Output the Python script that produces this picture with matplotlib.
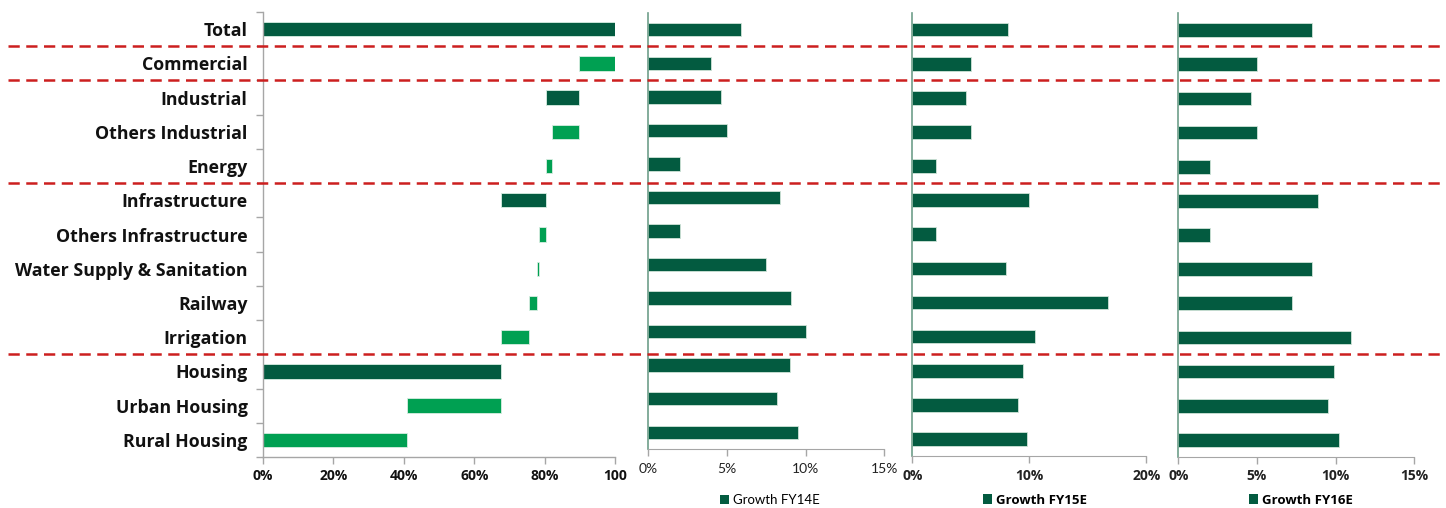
import numpy as np
import matplotlib
matplotlib.use('Agg')
import matplotlib.pyplot as plt
from matplotlib.lines import Line2D
from matplotlib.patches import Patch

plt.rcParams['font.family'] = ['Open Sans', 'DejaVu Sans']

# segments, top to bottom
categories = ['Total', 'Commercial', 'Industrial', 'Others Industrial', 'Energy',
              'Infrastructure', 'Others Infrastructure', 'Water Supply & Sanitation',
              'Railway', 'Irrigation', 'Housing', 'Urban Housing', 'Rural Housing']

# share of total (%) for groups and their sub-segments
group_names = ['Housing', 'Infrastructure', 'Industrial', 'Commercial']
group_share = [67.5, 13.0, 9.2, 10.3]
sub_items = {
    'Housing': [('Rural Housing', 40.9), ('Urban Housing', 26.6)],
    'Infrastructure': [('Irrigation', 8.1), ('Railway', 2.2),
                       ('Water Supply & Sanitation', 0.7), ('Others Infrastructure', 2.0)],
    'Industrial': [('Energy', 1.7), ('Others Industrial', 7.5)],
    'Commercial': [],
}

growth_fy14 = [5.9, 4.0, 4.6, 5.0, 2.0, 8.4, 2.0, 7.5, 9.1, 10.0, 9.0, 8.2, 9.5]
growth_fy15 = [8.2, 5.0, 4.6, 5.0, 2.0, 10.0, 2.0, 8.0, 16.7, 10.5, 9.5, 9.0, 9.8]
growth_fy16 = [8.5, 5.0, 4.6, 5.0, 2.0, 8.9, 2.0, 8.5, 7.2, 11.0, 9.9, 9.5, 10.2]

DARK = '#035B40'
LIGHT = '#00A052'
RED = '#CC1F1F'
GREY = '#A6A6A6'

# waterfall: left edge and width for every row
left = {}
width = {}
is_group = {}
start = 0.0
for g, s in zip(group_names, group_share):
    left[g], width[g], is_group[g] = start, s, True
    pos = start
    for name, v in sub_items[g]:
        left[name], width[name], is_group[name] = pos, v, False
        pos += v
    start += s
left['Total'], width['Total'], is_group['Total'] = 0.0, sum(group_share), True
if not sub_items['Commercial']:
    is_group['Commercial'] = False  # drawn as a plain segment

y = np.arange(len(categories))

fig = plt.figure(figsize=(14.46, 5.08), dpi=100, facecolor='white')

# --- share waterfall ---
ax1 = fig.add_axes([263/1446, (508-457)/508, (615-263)/1446, (457-12)/508])
for i, c in enumerate(categories):
    col = DARK if is_group[c] else LIGHT
    ax1.barh(i, width[c], left=left[c], height=0.42, color=col,
             edgecolor='#d8eee2', linewidth=0.6)
ax1.set_ylim(len(categories) - 0.5, -0.5)
ax1.set_xlim(0, 100)
ax1.set_yticks(y)
ax1.set_yticklabels(categories, fontsize=12.8, fontweight='bold', color='#111111')
ax1.set_yticks(np.arange(len(categories) + 1) - 0.5, minor=True)
ax1.tick_params(axis='y', which='major', length=0, pad=11)
ax1.tick_params(axis='y', which='minor', length=5, color=GREY, width=1)
ax1.set_xticks([0, 20, 40, 60, 80, 100])
ax1.set_xticklabels(['0%', '20%', '40%', '60%', '80%', '100'], fontsize=10,
                    fontweight='bold', color='#111111')
ax1.tick_params(axis='x', length=5, color=GREY, width=1, pad=4)
for sp in ['top', 'right']:
    ax1.spines[sp].set_visible(False)
for sp in ['left', 'bottom']:
    ax1.spines[sp].set_color(GREY)
    ax1.spines[sp].set_linewidth(1)

# --- growth panels ---
panels = [
    (growth_fy14, [648.3, 884.3, 13, 449], 15, [0, 5, 10, 15], 'Growth FY14E', 'normal', 770),
    (growth_fy15, [912.3, 1146.3, 12.6, 456], 20, [0, 10, 20], 'Growth FY15E', 'bold', 1035),
    (growth_fy16, [1178.3, 1414.3, 13, 457], 15, [0, 5, 10, 15], 'Growth FY16E', 'bold', 1301),
]
for vals, (x0, x1, top, bot), xmax, ticks, lab, wt, lx in panels:
    ax = fig.add_axes([x0/1446, (508-bot)/508, (x1-x0)/1446, (bot-top)/508])
    ax.barh(y, vals, height=0.4, color=DARK, edgecolor='#cfe3d8', linewidth=0.6)
    ax.set_ylim(len(categories) - 0.5, -0.5)
    ax.set_xlim(0, xmax)
    ax.set_yticks([])
    ax.set_xticks(ticks)
    fam = ['Open Sans'] if wt == 'bold' else ['Lato']
    ax.set_xticklabels([f'{t}%' for t in ticks], fontsize=10, fontweight=wt,
                       color='#222222', family=fam)
    ax.tick_params(axis='x', length=5, color=GREY, width=1, pad=4 if wt == 'bold' else 5)
    for sp in ['top', 'right']:
        ax.spines[sp].set_visible(False)
    ax.spines['bottom'].set_color(GREY)
    ax.spines['left'].set_color('#6E9E8A')
    ax.spines['left'].set_linewidth(1.2)
    fig.legend(handles=[Patch(facecolor=DARK, label=lab)], loc='center',
               bbox_to_anchor=(lx/1446, 1 - 500/508), frameon=False,
               handlelength=0.7, handleheight=0.7, handletextpad=0.3,
               prop={'size': 9.5, 'weight': wt, 'family': fam})

# dashed separators between groups, spanning all panels
for b in [0.5, 1.5, 4.5, 9.5]:
    yf = fig.transFigure.inverted().transform(ax1.transData.transform((0, b)))[1]
    fig.add_artist(Line2D([8/1446, 1.0], [yf, yf], transform=fig.transFigure,
                          color=RED, lw=1.8, dashes=(4.5, 2.6)))

fig.savefig('out.png', dpi=100, facecolor='white')
